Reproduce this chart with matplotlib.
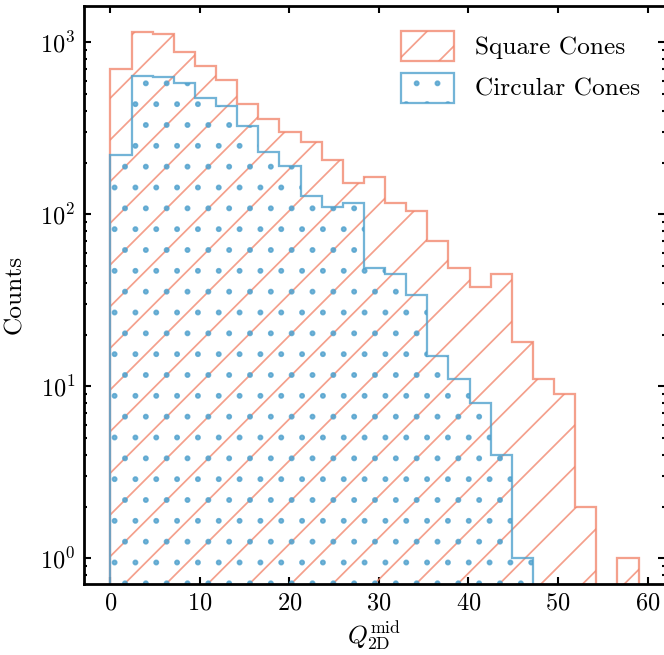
import numpy as np
import matplotlib
matplotlib.use('Agg')
import matplotlib.pyplot as plt

plt.rcParams['font.family'] = 'serif'
plt.rcParams['font.serif'] = ['cmr10']
plt.rcParams['mathtext.fontset'] = 'cm'
plt.rcParams['axes.formatter.use_mathtext'] = True
plt.rcParams['axes.unicode_minus'] = False
plt.rcParams['hatch.linewidth'] = 0.5

# bin edges (25 bins from 0 to 59)
edges = np.linspace(0, 59.0, 26)

# counts per bin
square_counts = [700, 1150, 1120, 885, 734, 606, 438, 358, 301, 265, 207, 152, 166,
                 117, 104, 70, 49, 38, 45, 18, 11, 9, 2, 0, 1]
circular_counts = [220, 640, 630, 580, 474, 424, 327, 230, 190, 128, 110, 116, 49,
                   45, 34, 15, 11, 8, 4, 1, 0, 0, 0, 0, 0]

labels = ['Square Cones', 'Circular Cones']
red = '#F2886F'
blue = '#50A1CD'

fig = plt.figure(figsize=(664 / 250, 655 / 250), dpi=250)
ax = fig.add_axes([84 / 664, 71 / 655, 581 / 664, 578.3 / 655])

centers = (edges[:-1] + edges[1:]) / 2
ax.hist(centers, bins=edges, weights=square_counts, histtype='step', log=True,
        color=red, hatch='//', lw=0.65, alpha=0.8, label=labels[0])
ax.hist(centers, bins=edges, weights=circular_counts, histtype='step', log=True,
        color=blue, hatch='..', lw=0.65, alpha=0.8, label=labels[1])

ax.set_xlim(-2.95, 61.95)
ax.set_ylim(0.709, 1635)
ax.set_xticks([0, 10, 20, 30, 40, 50, 60])

for s in ax.spines.values():
    s.set_linewidth(0.8)
ax.tick_params(which='both', direction='in', top=True, right=True, width=0.6)
ax.tick_params(which='major', length=2.0, labelsize=7, pad=2.5)
ax.tick_params(which='minor', length=1.0)
ax.tick_params(axis='x', which='minor', bottom=False, top=False)

ax.set_xlabel(r'$Q_{\mathrm{2D}}^{\mathrm{mid}}$', fontsize=7.3, labelpad=1.5)
ax.set_ylabel('Counts', fontsize=7.3, labelpad=4)

ax.legend(loc='upper right', frameon=False, fontsize=7.3, handlelength=2.1,
          handleheight=1.45, handletextpad=0.82, labelspacing=0.45,
          borderaxespad=0.6)

fig.savefig('out.png', dpi=250)
